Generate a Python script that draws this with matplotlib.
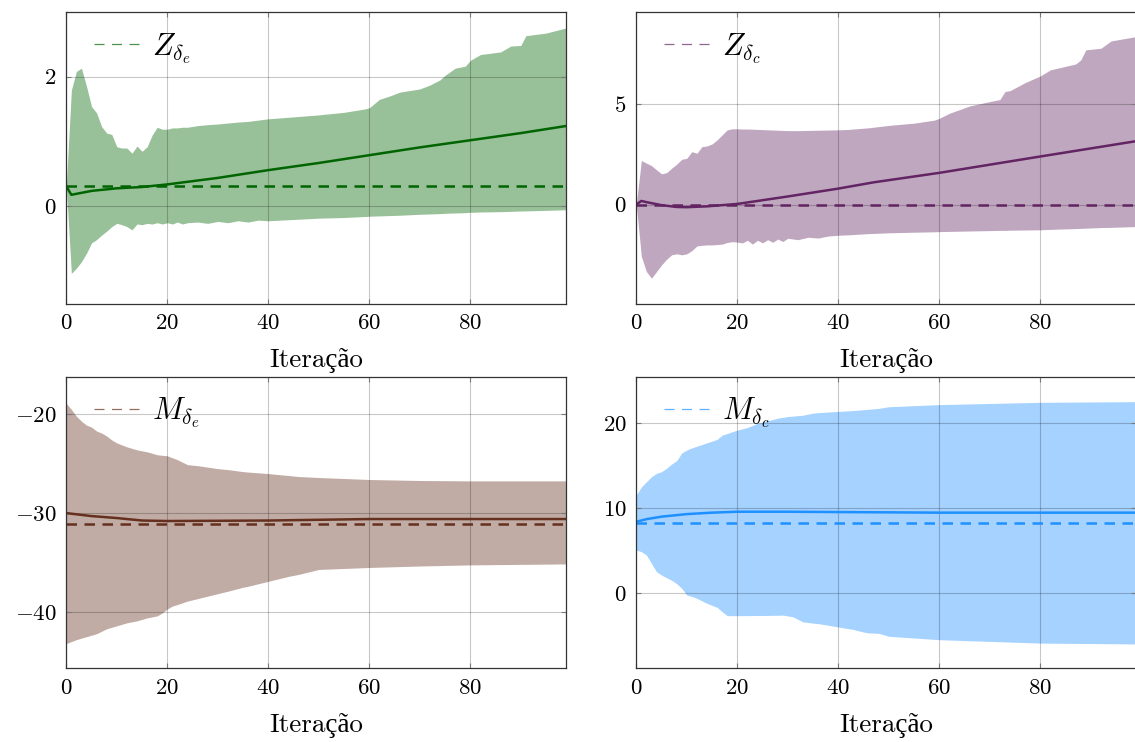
import matplotlib
matplotlib.use("Agg")
import matplotlib.pyplot as plt
from matplotlib.lines import Line2D

plt.rcParams['font.family'] = ['cmr10', 'Liberation Serif']
plt.rcParams['mathtext.fontset'] = 'cm'
plt.rcParams['axes.formatter.use_mathtext'] = True

# Z_delta_e : band (mean +/- std) per iteration
zde_it = [0, 1, 2, 3, 4, 5, 6, 7, 8, 9, 10, 11, 12, 13, 14, 15, 16, 17, 18, 19, 20,
          21, 22, 23, 24, 26, 28, 30, 32, 34, 36, 38, 40, 45, 50, 55, 59, 60, 62, 64,
          66, 70, 72, 74, 75, 77, 79, 80, 82, 86, 88, 90, 91, 95, 99]
zde_upper = [0.31, 1.79, 2.08, 2.13, 1.85, 1.54, 1.44, 1.23, 1.13, 1.11, 0.92, 0.90, 0.90,
             0.82, 0.93, 0.85, 0.92, 1.10, 1.22, 1.19, 1.19, 1.21, 1.21, 1.22, 1.22, 1.245,
             1.26, 1.27, 1.285, 1.30, 1.31, 1.33, 1.35, 1.38, 1.41, 1.45, 1.50, 1.52, 1.65,
             1.70, 1.76, 1.81, 1.87, 1.95, 2.02, 2.13, 2.16, 2.25, 2.34, 2.38, 2.47, 2.48,
             2.63, 2.67, 2.75]
zde_lower = [0.31, -1.03, -0.95, -0.85, -0.72, -0.56, -0.51, -0.44, -0.38, -0.31, -0.26,
             -0.28, -0.31, -0.36, -0.27, -0.28, -0.26, -0.27, -0.25, -0.27, -0.25, -0.27,
             -0.24, -0.27, -0.25, -0.24, -0.26, -0.23, -0.25, -0.22, -0.24, -0.21, -0.22,
             -0.20, -0.18, -0.17, -0.155, -0.15, -0.145, -0.14, -0.135, -0.12, -0.115,
             -0.11, -0.105, -0.10, -0.095, -0.09, -0.085, -0.08, -0.075, -0.07, -0.068,
             -0.06, -0.05]
zde_mean_it = [0, 1, 5, 10, 15, 20, 30, 40, 50, 60, 70, 80, 90, 99]
zde_mean = [0.31, 0.18, 0.24, 0.28, 0.30, 0.34, 0.44, 0.56, 0.67, 0.79, 0.91, 1.02, 1.13, 1.24]
zde_ref = 0.31

# Z_delta_c
zdc_it = [0, 1, 2, 3, 4, 5, 6, 7, 8, 9, 10, 11, 12, 13, 14, 15, 16, 17, 18, 19, 20,
          21, 22, 23, 24, 25, 26, 27, 28, 29, 30, 32, 34, 36, 38, 40, 42, 44, 46, 50,
          55, 59, 60, 62, 66, 70, 72, 73, 74, 77, 80, 82, 87, 88, 89, 92, 94, 99]
zdc_upper = [0.0, 2.18, 2.05, 1.93, 1.72, 1.52, 1.58, 1.80, 2.00, 2.24, 2.29, 2.62, 2.54,
             2.87, 2.90, 3.00, 3.20, 3.45, 3.70, 3.75, 3.75, 3.74, 3.74, 3.73, 3.72, 3.71,
             3.70, 3.69, 3.68, 3.67, 3.66, 3.66, 3.67, 3.68, 3.69, 3.70, 3.72, 3.76, 3.80,
             3.92, 4.03, 4.18, 4.27, 4.52, 4.88, 5.10, 5.20, 5.60, 5.64, 6.04, 6.37, 6.67,
             6.96, 7.16, 7.66, 7.74, 8.10, 8.32]
zdc_lower = [0.0, -2.57, -3.32, -3.65, -3.32, -2.99, -2.71, -2.49, -2.44, -2.49, -2.44,
             -2.28, -2.05, -2.02, -2.00, -2.00, -1.98, -1.96, -1.88, -1.84, -1.86, -1.90,
             -1.77, -1.96, -1.77, -1.90, -1.74, -1.87, -1.71, -1.83, -1.67, -1.74, -1.62,
             -1.66, -1.56, -1.52, -1.50, -1.47, -1.44, -1.40, -1.37, -1.35, -1.34, -1.33,
             -1.31, -1.29, -1.28, -1.28, -1.27, -1.26, -1.25, -1.23, -1.19, -1.18, -1.17,
             -1.14, -1.13, -1.09]
zdc_mean_it = [0, 1, 2, 5, 8, 10, 14, 20, 30, 40, 47, 60, 80, 99]
zdc_mean = [0.0, 0.18, 0.12, -0.03, -0.12, -0.13, -0.09, 0.03, 0.40, 0.79, 1.10, 1.57, 2.38, 3.14]
zdc_ref = 0.0

# M_delta_e
mde_it = [0, 1, 2, 3, 4, 5, 6, 7, 8, 9, 10, 12, 14, 16, 18, 19, 20, 21, 22, 24, 26, 28,
          30, 32, 35, 36, 40, 44, 46, 50, 60, 70, 80, 99]
mde_upper = [-18.9, -19.5, -20.2, -20.7, -21.1, -21.3, -21.7, -21.9, -22.2, -22.6, -22.9,
             -23.3, -23.6, -23.8, -24.1, -24.15, -24.2, -24.4, -24.6, -25.1, -25.2, -25.35,
             -25.5, -25.6, -25.8, -25.85, -26.0, -26.2, -26.3, -26.4, -26.6, -26.7, -26.74,
             -26.74]
mde_lower = [-43.2, -43.0, -42.8, -42.65, -42.5, -42.35, -42.2, -41.95, -41.7, -41.55,
             -41.4, -41.1, -40.9, -40.6, -40.4, -40.1, -39.7, -39.4, -39.25, -38.9, -38.65,
             -38.4, -38.15, -37.9, -37.5, -37.4, -36.9, -36.4, -36.2, -35.7, -35.5, -35.35,
             -35.24, -35.14]
mde_mean_it = [0, 5, 10, 15, 20, 40, 60, 99]
mde_mean = [-30.0, -30.3, -30.5, -30.75, -30.8, -30.75, -30.6, -30.6]
mde_ref = -31.1

# M_delta_c
mdc_it = [0, 1, 2, 3, 4, 5, 6, 7, 8, 9, 10, 11, 12, 14, 16, 17, 18, 20, 22, 24, 26, 28,
          29, 30, 31, 33, 35, 36, 40, 43, 45, 46, 48, 50, 60, 80, 99]
mdc_upper = [11.55, 12.5, 13.1, 13.7, 14.1, 14.3, 14.7, 15.2, 15.6, 16.5, 16.85, 17.1, 17.3,
             17.7, 18.1, 18.6, 18.8, 19.2, 19.5, 20.0, 20.3, 20.6, 20.7, 20.8, 20.85, 20.95,
             21.2, 21.25, 21.4, 21.5, 21.6, 21.65, 21.76, 21.95, 22.2, 22.47, 22.55]
mdc_lower = [5.07, 4.87, 4.48, 3.5, 2.5, 2.12, 1.8, 1.5, 1.1, 0.55, -0.24, -0.4, -0.63,
             -1.22, -1.69, -2.2, -2.67, -2.67, -2.66, -2.65, -2.64, -2.62, -2.6, -2.7, -2.8,
             -3.4, -3.55, -3.6, -4.0, -4.3, -4.6, -4.7, -4.75, -5.1, -5.5, -5.9, -6.0]
mdc_mean_it = [0, 2, 5, 10, 15, 20, 30, 40, 60, 99]
mdc_mean = [8.4, 8.7, 9.0, 9.3, 9.47, 9.58, 9.58, 9.54, 9.47, 9.47]
mdc_ref = 8.29

panels = [
    dict(it=zde_it, up=zde_upper, lo=zde_lower, mit=zde_mean_it, m=zde_mean, ref=zde_ref,
         color='#006400', label=r'$Z_{\delta_e}$', ylim=(-1.5, 2.99), yticks=[0, 2],
         pos=[66.3, 12.3]),
    dict(it=zdc_it, up=zdc_upper, lo=zdc_lower, mit=zdc_mean_it, m=zdc_mean, ref=zdc_ref,
         color='#622462', label=r'$Z_{\delta_c}$', ylim=(-4.92, 9.52), yticks=[0, 5],
         pos=[636.3, 12.3]),
    dict(it=mde_it, up=mde_upper, lo=mde_lower, mit=mde_mean_it, m=mde_mean, ref=mde_ref,
         color='#66301e', label=r'$M_{\delta_e}$', ylim=(-45.7, -16.2), yticks=[-40, -30, -20],
         pos=[66.3, 376.7]),
    dict(it=mdc_it, up=mdc_upper, lo=mdc_lower, mit=mdc_mean_it, m=mdc_mean, ref=mdc_ref,
         color='#1e90ff', label=r'$M_{\delta_c}$', ylim=(-8.87, 25.49), yticks=[0, 10, 20],
         pos=[636.3, 376.7]),
]

W, H = 1135, 742
fig = plt.figure(figsize=(W / 100, H / 100), dpi=100)

for p in panels:
    x0, y0 = p['pos']
    ax = fig.add_axes([x0 / W, 1 - (y0 + 291.6) / H, 500 / W, 291.6 / H])
    c = p['color']
    ax.fill_between(p['it'], p['lo'], p['up'], color=c, alpha=0.4, lw=0)
    ax.plot(p['mit'], p['m'], color=c, lw=1.8)
    ax.axhline(p['ref'], color=c, lw=1.8, ls=(0, (4.2, 3)))

    ax.set_xlim(0, 99)
    ax.set_ylim(*p['ylim'])
    ax.set_xticks([0, 20, 40, 60, 80])
    ax.set_yticks(p['yticks'])
    ax.set_axisbelow('line')
    ax.grid(True, color='black', alpha=0.22, lw=0.8)
    ax.tick_params(direction='in', top=True, right=True, length=3.5, width=0.8,
                   color='#7a7a7a', labelsize=16.5)
    ax.tick_params(axis='x', pad=7)
    ax.tick_params(axis='y', pad=7)
    for s in ax.spines.values():
        s.set_color('#333333')
        s.set_linewidth(0.9)
    ax.set_xlabel('Iteração', fontsize=19.5, labelpad=11)

    proxy = Line2D([], [], color=c, alpha=0.7, lw=0.9, ls=(0, (8, 6)))
    ax.legend(handles=[proxy], labels=[p['label']], loc='upper left', frameon=False,
              fontsize=22, handlelength=1.47, handletextpad=0.42,
              bbox_to_anchor=(0.0, 1.03))

fig.savefig('out.png', dpi=100)
